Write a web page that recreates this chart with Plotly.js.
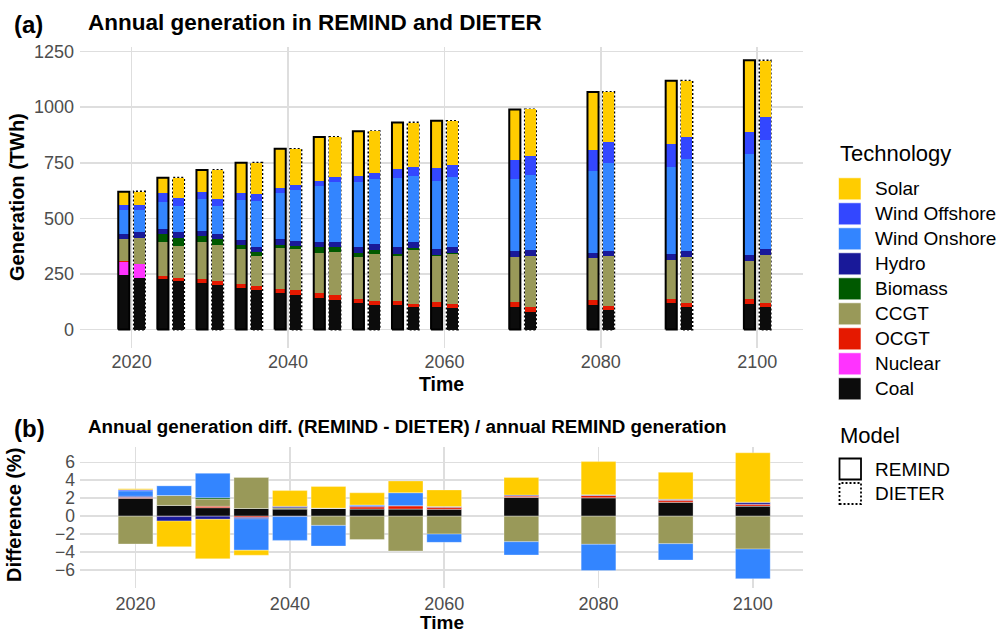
<!DOCTYPE html>
<html><head><meta charset="utf-8">
<script src="https://cdn.plot.ly/plotly-3.0.1.min.js"></script>
<style>html,body{margin:0;padding:0;background:#fff}#chart{width:1002px;height:635px}</style>
</head><body><div id="chart"></div>
<script>
// ---------- data ----------
const years = [2020, 2025, 2030, 2035, 2040, 2045, 2050, 2055, 2060, 2070, 2080, 2090, 2100];
const technologies = ['Solar', 'Wind Offshore', 'Wind Onshore', 'Hydro', 'Biomass', 'CCGT', 'OCGT', 'Nuclear', 'Coal'];
const techColors = ['#FFCC00', '#3347FF', '#3385FF', '#191999', '#005900', '#999959', '#E51900', '#FF33FF', '#0C0C0C'];
const models = ['REMIND', 'DIETER'];
const xTicks = [2020, 2040, 2060, 2080, 2100];
const yTicksTop = [0, 250, 500, 750, 1000, 1250];
const yTicksBottom = [-6, -4, -2, 0, 2, 4, 6];

// REMIND annual generation (TWh)
const remindSolar    = [59, 70, 97, 137.6, 175, 199, 202, 211, 214, 228, 262, 286, 322];
const remindOffshore = [25, 38, 34, 30, 25, 22.5, 25.6, 40.5, 57, 85.5, 94.5, 100.5, 100];
const remindOnshore  = [105, 123, 144, 180, 207, 250, 292, 310, 306, 322, 367, 394, 454];
const remindHydro    = [24, 22.5, 22.5, 22.5, 25.5, 25, 27, 30, 27, 27, 25, 25.5, 25.5];
const remindBiomass  = [0, 37, 27, 18, 12, 22.5, 18, 7.5, 4.5, 0, 0, 0, 0];
const remindCCGT     = [99, 153, 166, 159, 186, 184, 190, 204, 205.5, 205, 187.5, 175, 173.6];
const remindOCGT     = [2, 12, 19.5, 18, 19.5, 22.5, 19.5, 18, 22.5, 20, 22.5, 19.5, 21];
const remindNuclear  = [61, 0, 0, 0, 0, 0, 0, 0, 0, 0, 0, 0, 0];
const remindCoal     = [245, 227, 207.7, 185, 163, 140, 118, 110, 102.5, 102, 110, 118, 114.7];

// DIETER annual generation (TWh)
const dieterSolar    = [58.4, 89.5, 129, 141.7, 161, 178, 190, 199, 196.6, 208.7, 222.5, 252.3, 255.6];
const dieterOffshore = [24.2, 38, 34, 30, 25, 22.5, 25.6, 40.5, 57, 85.5, 94.5, 100.5, 100];
const dieterOnshore  = [101.3, 115.5, 124, 206, 228.5, 270, 291, 296.5, 314.6, 337, 398, 414.4, 494];
const dieterHydro    = [23.3, 25.9, 25, 23.6, 24.3, 25, 26.3, 30, 26.3, 26, 24.3, 24.4, 22.8];
const dieterBiomass  = [0, 37, 26, 18, 12, 22.5, 18, 7.5, 4.5, 0, 0, 0, 0];
const dieterCCGT     = [118.2, 145.5, 160, 133, 185, 193, 213, 240, 224, 233, 221, 209.3, 218];
const dieterOCGT     = [1.4, 12.3, 18.4, 19, 20, 22.5, 17.3, 14.6, 20.4, 18.5, 19.7, 17, 18.3];
const dieterNuclear  = [61, 0, 0, 0, 0, 0, 0, 0, 0, 0, 0, 0, 0];
const dieterCoal     = [232.6, 218.8, 201, 178.6, 156.5, 132, 111, 102.5, 95, 81, 88, 100.6, 101];

// Difference (REMIND - DIETER) / REMIND total (%)
const diffSolar    = [0.1, -2.85, -4.4, -0.55, 1.75, 2.4, 1.35, 1.3, 1.85, 1.95, 3.7, 3.0, 5.5];
const diffOffshore = [0.13, 0, 0, 0, 0, 0, 0, 0, 0, 0, 0, 0, 0];
const diffOnshore  = [0.6, 1.1, 2.75, -3.5, -2.65, -2.3, 0.12, 1.45, -0.92, -1.48, -2.93, -1.82, -3.3];
const diffHydro    = [0.12, -0.5, -0.35, -0.15, 0.15, 0, 0.08, 0, 0.07, 0.1, 0.07, 0.1, 0.22];
const diffBiomass  = [0, 0, 0.15, 0, 0, 0, 0, 0, 0, 0, 0, 0, 0];
const diffCCGT     = [-3.1, 1.1, 0.8, 3.5, 0.15, -1.03, -2.6, -3.88, -2.0, -2.85, -3.14, -3.07, -3.67];
const diffOCGT     = [0.1, -0.05, 0.15, -0.15, -0.05, 0, 0.25, 0.37, 0.22, 0.15, 0.26, 0.22, 0.22];
const diffNuclear  = [0, 0, 0, 0, 0, 0, 0, 0, 0, 0, 0, 0, 0];
const diffCoal     = [2.0, 1.2, 0.95, 0.85, 0.8, 0.9, 0.8, 0.8, 0.78, 2.1, 2.05, 1.56, 1.12];

// ---------- assemble ----------
const remindByTech = [remindSolar, remindOffshore, remindOnshore, remindHydro, remindBiomass, remindCCGT, remindOCGT, remindNuclear, remindCoal];
const dieterByTech = [dieterSolar, dieterOffshore, dieterOnshore, dieterHydro, dieterBiomass, dieterCCGT, dieterOCGT, dieterNuclear, dieterCoal];
const diffByTech   = [diffSolar, diffOffshore, diffOnshore, diffHydro, diffBiomass, diffCCGT, diffOCGT, diffNuclear, diffCoal];

const W = 1002, H = 635;
const px = x => x / W;
const py = y => 1 - y / H;
const FONT = 'Liberation Sans, Arial, Helvetica, sans-serif';

const dodge = 1.0;      // years between group centre and model bar centre
const barW = 1.42;      // top bar width (years)
const diffW = 4.5;      // bottom bar width (years)

const traces = [];
// stacking order: last legend item closest to zero
for (let k = technologies.length - 1; k >= 0; k--) {
  traces.push({
    type: 'bar', x: years, y: remindByTech[k], xaxis: 'x', yaxis: 'y',
    width: barW, offset: -dodge - barW / 2,
    marker: {color: techColors[k], line: {width: 0}}, showlegend: false, hoverinfo: 'skip'
  });
  traces.push({
    type: 'bar', x: years, y: dieterByTech[k], xaxis: 'x3', yaxis: 'y',
    width: barW, offset: dodge - barW / 2,
    marker: {color: techColors[k], line: {width: 0}}, showlegend: false, hoverinfo: 'skip'
  });
  traces.push({
    type: 'bar', x: years, y: diffByTech[k], xaxis: 'x2', yaxis: 'y2',
    width: diffW, marker: {color: techColors[k], line: {width: 0.6, color: 'rgba(255,255,255,0.5)'}},
    showlegend: false, hoverinfo: 'skip'
  });
}

// total outlines
function totals(byTech) {
  return years.map((_, i) => byTech.reduce((s, arr) => s + arr[i], 0));
}
function outline(tot, shift, dash) {
  const xs = [], ys = [];
  years.forEach((yr, i) => {
    const l = yr + shift - barW / 2, r = yr + shift + barW / 2;
    xs.push(l, l, r, r, l, null);
    ys.push(0, tot[i], tot[i], 0, 0, null);
  });
  return {type: 'scatter', mode: 'lines', x: xs, y: ys, xaxis: 'x', yaxis: 'y',
    line: {color: '#000', width: 2, dash: dash}, showlegend: false, hoverinfo: 'skip', connectgaps: false};
}
traces.push(outline(totals(remindByTech), -dodge, 'solid'));
traces.push(outline(totals(dieterByTech), dodge, '2px,2px'));

// ---------- layout ----------
const gridCol = '#DEDEDE';
const tickFont = {family: FONT, size: 18, color: '#4D4D4D'};
const xDom = [px(80), px(803)];

const shapes = [];
const annotations = [];

// legend: Technology
annotations.push({xref: 'paper', yref: 'paper', x: px(838), y: py(154), xanchor: 'left', yanchor: 'middle',
  text: 'Technology', showarrow: false, font: {family: FONT, size: 22, color: '#000'}});
technologies.forEach((t, i) => {
  const c = 188.8 + 25 * i;
  shapes.push({type: 'rect', xref: 'paper', yref: 'paper', x0: px(838.5), x1: px(861), y0: py(c + 11), y1: py(c - 11),
    fillcolor: techColors[i], line: {width: 0.6, color: '#FFFFFF'}});
  annotations.push({xref: 'paper', yref: 'paper', x: px(873), y: py(c), xanchor: 'left', yanchor: 'middle',
    text: t, showarrow: false, font: {family: FONT, size: 19, color: '#000'}});
});
// legend: Model
annotations.push({xref: 'paper', yref: 'paper', x: px(838), y: py(435), xanchor: 'left', yanchor: 'middle',
  text: 'Model', showarrow: false, font: {family: FONT, size: 22, color: '#000'}});
models.forEach((m, i) => {
  const c = 469 + 24.5 * i;
  shapes.push({type: 'rect', xref: 'paper', yref: 'paper', x0: px(839.5), x1: px(861), y0: py(c + 10.5), y1: py(c - 10.5),
    fillcolor: 'rgba(0,0,0,0)', line: {width: 1.8, color: '#000', dash: i === 0 ? 'solid' : '2px,2px'}});
  annotations.push({xref: 'paper', yref: 'paper', x: px(873), y: py(c), xanchor: 'left', yanchor: 'middle',
    text: m, showarrow: false, font: {family: FONT, size: 19, color: '#000'}});
});

// titles
annotations.push({xref: 'paper', yref: 'paper', x: px(12), y: py(24), xanchor: 'left', yanchor: 'middle',
  text: '<b>(a)</b>', showarrow: false, font: {family: FONT, size: 24, color: '#000'}});
annotations.push({xref: 'paper', yref: 'paper', x: px(86), y: py(23), xanchor: 'left', yanchor: 'middle',
  text: '<b>Annual generation in REMIND and DIETER</b>', showarrow: false, font: {family: FONT, size: 22.5, color: '#000'}});
annotations.push({xref: 'paper', yref: 'paper', x: px(12), y: py(428), xanchor: 'left', yanchor: 'middle',
  text: '<b>(b)</b>', showarrow: false, font: {family: FONT, size: 24, color: '#000'}});
annotations.push({xref: 'paper', yref: 'paper', x: px(86), y: py(426), xanchor: 'left', yanchor: 'middle',
  text: '<b>Annual generation diff. (REMIND - DIETER) / annual REMIND generation</b>', showarrow: false,
  font: {family: FONT, size: 18.8, color: '#000'}});
// axis titles
annotations.push({xref: 'paper', yref: 'paper', x: px(17), y: py(197), xanchor: 'center', yanchor: 'middle', textangle: -90,
  text: '<b>Generation (TWh)</b>', showarrow: false, font: {family: FONT, size: 20, color: '#000'}});
annotations.push({xref: 'paper', yref: 'paper', x: px(441.5), y: py(384), xanchor: 'center', yanchor: 'middle',
  text: '<b>Time</b>', showarrow: false, font: {family: FONT, size: 19.5, color: '#000'}});
annotations.push({xref: 'paper', yref: 'paper', x: px(14), y: py(515), xanchor: 'center', yanchor: 'middle', textangle: -90,
  text: '<b>Difference (%)</b>', showarrow: false, font: {family: FONT, size: 20, color: '#000'}});
annotations.push({xref: 'paper', yref: 'paper', x: px(441.5), y: py(622.5), xanchor: 'center', yanchor: 'middle',
  text: '<b>Time</b>', showarrow: false, font: {family: FONT, size: 19, color: '#000'}});

const axBase = {showline: false, zeroline: false, showgrid: true, gridcolor: gridCol, gridwidth: 1.6,
  ticks: '', tickfont: tickFont, fixedrange: true};

const layout = {
  width: W, height: H, margin: {l: 0, r: 0, t: 0, b: 0},
  paper_bgcolor: '#FFFFFF', plot_bgcolor: '#FFFFFF',
  barmode: 'relative', bargap: 0, showlegend: false,
  xaxis: Object.assign({}, axBase, {domain: xDom, range: [2013.4, 2105.85], tickvals: xTicks, anchor: 'y', ticklabelstandoff: 1}),
  xaxis3: Object.assign({}, axBase, {domain: xDom, range: [2013.4, 2105.85], overlaying: 'x', visible: false, anchor: 'y'}),
  yaxis: Object.assign({}, axBase, {domain: [py(348), py(46.7)], range: [-83, 1272], tickvals: yTicksTop, anchor: 'x', ticklabelstandoff: 5}),
  xaxis2: Object.assign({}, axBase, {domain: xDom, range: [2012.8, 2106.5], tickvals: xTicks, anchor: 'y2', ticklabelstandoff: 3}),
  yaxis2: Object.assign({}, axBase, {domain: [py(588.3), py(446.7)], range: [-8.04, 7.74], tickvals: yTicksBottom, anchor: 'x2', ticklabelstandoff: 4, tickfont: {family: FONT, size: 17.5, color: '#4D4D4D'}}),
  shapes: shapes, annotations: annotations, font: {family: FONT}
};

Plotly.newPlot('chart', traces, layout, {staticPlot: true, displayModeBar: false});
</script></body></html>
